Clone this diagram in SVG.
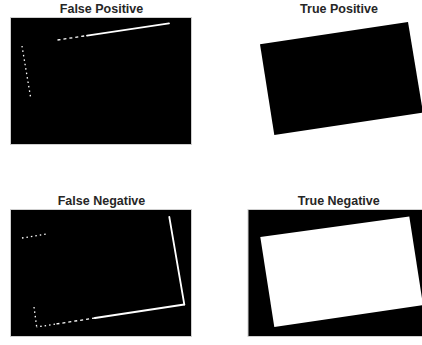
<svg xmlns="http://www.w3.org/2000/svg" width="422" height="345" viewBox="0 0 422 345">
<style>
.title{font-family:"Liberation Sans",Arial,sans-serif;font-weight:bold;font-size:12.5px;fill:#262626;text-anchor:middle}
.axblack{fill:#000;stroke:#cfcfcf;stroke-width:1}
.axwhite{fill:#fff;stroke:#f0f0f0;stroke-width:1}
.solid{stroke:#fff;stroke-width:1.8;fill:none;stroke-linecap:round}
.dash{stroke:#fff;stroke-width:1.3;fill:none;stroke-dasharray:3 3}
.dot{stroke:#fff;stroke-width:1.3;fill:none;stroke-dasharray:1.5 3}
</style>
<rect width="422" height="345" fill="#fff"/>
<g id="false-positive">
<text class="title" x="101.5" y="12.5">False Positive</text>
<rect class="axblack" x="10.5" y="17.5" width="181" height="127"/>
<line class="dash" x1="57.5" y1="40" x2="87" y2="35.6"/>
<line class="solid" x1="87" y1="35.6" x2="169" y2="23.3"/>
<line class="dot" x1="22" y1="46" x2="30.7" y2="98"/>
</g>
<g id="true-positive">
<text class="title" x="339" y="12.5">True Positive</text>
<polygon points="260,44.3 408,22 423,112.5 274.3,135" fill="#000"/>
</g>
<g id="false-negative">
<text class="title" x="101.5" y="204.5">False Negative</text>
<rect class="axblack" x="10.5" y="209.5" width="181" height="127"/>
<line class="solid" x1="169.3" y1="217" x2="184.3" y2="304.5"/>
<line class="solid" x1="184.3" y1="304.5" x2="95" y2="318"/>
<line class="dash" x1="95" y1="318" x2="55" y2="324.2"/>
<line class="dot" x1="55" y1="324.2" x2="36.7" y2="327"/>
<line class="dot" x1="34" y1="307" x2="36.7" y2="327"/>
<line class="dot" x1="22" y1="238" x2="48.3" y2="233.7"/>
</g>
<g id="true-negative">
<text class="title" x="338.7" y="204.5">True Negative</text>
<rect class="axblack" x="248" y="209.5" width="181" height="127"/>
<polygon points="260.3,237 409.3,216.5 423,305 274.3,327" fill="#fff"/>
</g>
<g id="connectors"></g>
</svg>
